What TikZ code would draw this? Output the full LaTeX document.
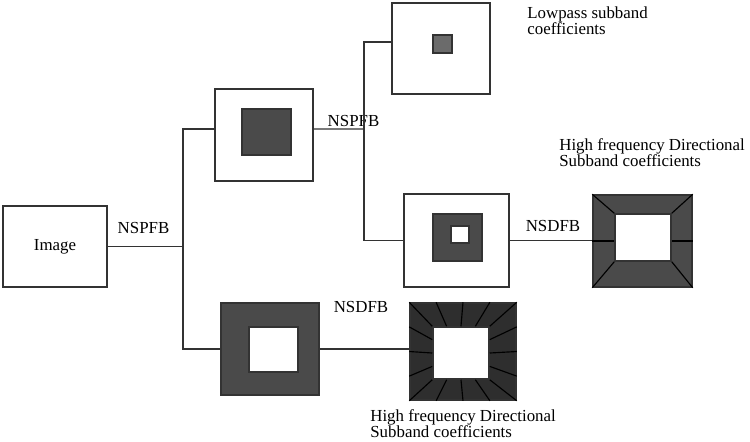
\documentclass[tikz,border=0pt]{standalone}
\usepackage{fontspec}
\setmainfont{Liberation Serif}
\usetikzlibrary{calc}
\definecolor{linegray}{HTML}{333333}
\definecolor{darkfill}{HTML}{4A4A4A}
\definecolor{midfill}{HTML}{6B6B6B}
\definecolor{blackfill}{HTML}{2E2E2E}

\begin{document}
\begin{tikzpicture}[x=0.02cm, y=-0.02cm, font=\fontsize{9.6}{9.2}\selectfont,
	main box/.style={rectangle,draw=linegray,fill=white,inner sep=0pt,line width=0.85pt},
	size/.style 2 args={minimum width=#1*0.02cm,minimum height=#2*0.02cm},
	wire/.style={draw=linegray,line width=0.65pt},
	cut/.style={draw=black,line width=0.65pt},
	note/.style={inner sep=0pt,align=left,anchor=north west}]
	
	\useasboundingbox (0,0) rectangle (750,441);
	
	% first level
	\node[main box, size={104}{81}] (img) at (55,246.5) {Image};
	\node[inner sep=0pt] (spf1) at (143.5,227.5) {NSPFB};
	
	\node[main box, size={98}{92}] (lev1) at (264,135) {};
	\node[main box, fill=darkfill, size={49}{46}] (lev1in) at (266.5,132) {};
	
	\node[main box, fill=darkfill, size={98}{92}] (lev2) at (270,349) {};
	\node[main box, size={49}{45}] (lev2in) at (273.5,349.5) {};
	\node[inner sep=0pt] (sdf2) at (361,307) {NSDFB};
	
	% second level
	\node[inner sep=0pt] (spf2) at (353.5,121) {NSPFB};
	
	\node[main box, size={98}{91}] (low) at (441,48.5) {};
	\node[main box, fill=midfill, size={19}{18}] (lowin) at (442.5,44) {};
	\node[note] (lowtxt) at (527,6) {Lowpass subband\\coefficients};
	
	\node[main box, size={105}{93}] (mid) at (456.5,240.5) {};
	\node[main box, fill=darkfill, size={49}{47}] (midin) at (457.5,237.5) {};
	\node[main box, size={18}{17}] (midhole) at (460,234.5) {};
	\node[inner sep=0pt] (sdf1) at (553,226) {NSDFB};
	
	% directional subbands
	\node[main box, fill=darkfill, size={99}{92}] (dir1) at (642.5,241) {};
	\node[main box, size={56}{47}] (dir1in) at (643,237.5) {};
	\node[note] (hf1) at (559,138) {High frequency Directional\\Subband coefficients};
	
	\node[main box, fill=blackfill, size={106}{97}] (dir2) at (463,351.5) {};
	\node[main box, size={56}{52}] (dir2in) at (461,353) {};
	\node[note] (hf2) at (370,409) {High frequency Directional\\Subband coefficients};
	
	\foreach \c in {north west,north east,south west,south east} {
		\draw[cut] (dir1.\c) -- (dir1in.\c);
		\draw[cut] (dir2.\c) -- (dir2in.\c);
	}
	\draw[cut] (dir1.west) -- (dir1.west -| dir1in.west);
	\draw[cut] (dir1.east) -- (dir1.east -| dir1in.east);
	
	\foreach \t in {0.25,0.5,0.75} {
		\draw[cut] ($(dir2.north west)!\t!(dir2.north east)$) -- ($(dir2in.north west)!\t!(dir2in.north east)$);
		\draw[cut] ($(dir2.south west)!\t!(dir2.south east)$) -- ($(dir2in.south west)!\t!(dir2in.south east)$);
		\draw[cut] ($(dir2.north west)!\t!(dir2.south west)$) -- ($(dir2in.north west)!\t!(dir2in.south west)$);
		\draw[cut] ($(dir2.north east)!\t!(dir2.south east)$) -- ($(dir2in.north east)!\t!(dir2in.south east)$);
	}
	
	% connectors
	\coordinate (bus1) at (183,243);
	\coordinate (bus2) at (364,129);
	
	\draw[wire] (img.east) -- (img.east -| bus1);
	\draw[wire] ([yshift=0.12cm]lev1.west) -| (bus1) |- (lev2.west);
	\draw[wire] ([yshift=0.12cm]lev1.east) -- (bus2);
	\draw[wire] ([yshift=0.13cm]low.west) -| (bus2) |- (mid.west);
	\draw[wire] (mid.east) -- (mid.east -| dir1.west);
	\draw[wire] (lev2.east) -- (lev2.east -| dir2.west);
	
\end{tikzpicture}
\end{document}
